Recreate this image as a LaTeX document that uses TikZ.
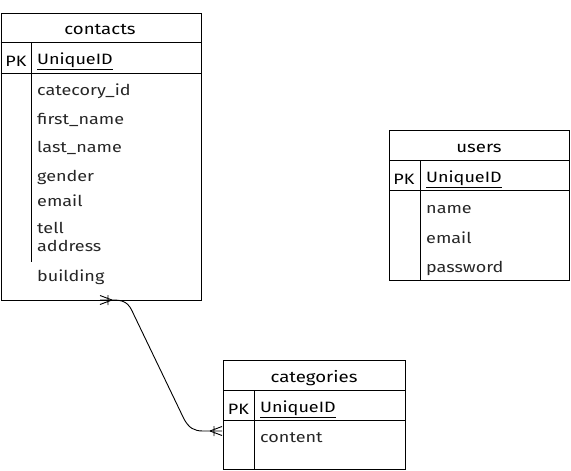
\documentclass[tikz,border=0pt]{standalone}
\usepackage{fontspec}
\setmainfont{Fira Sans}[FakeStretch=1.2]
\begin{document}
\begin{tikzpicture}[x=1pt,y=-1pt,
  tbl/.style={draw=black,line width=1pt,anchor=north west,inner sep=0pt},
  rule/.style={draw=black,line width=0.9pt},
  ttl/.style={font=\fontsize{15.5}{16}\selectfont,inner sep=0pt},
  fld/.style={font=\fontsize{15}{16}\selectfont\color{black!85},anchor=west,inner sep=0pt},
  pk/.style={font=\fontsize{15}{16}\selectfont,inner sep=0pt},
  uid/.style={font=\fontsize{15}{16}\selectfont,anchor=west,inner sep=0pt},
  conn/.style={draw=black,line width=0.9pt}]
\useasboundingbox (0,0) rectangle (571,471);
% contacts
\node[tbl,minimum width=200pt,minimum height=287pt] (contacts) at (0.5,13) {};
\node[ttl] (tc) at (100,30) {contacts};
\draw[rule] (0.5,42) -- (200.5,42);
\draw[rule] (0.5,73) -- (200.5,73);
\draw[rule] (31,42) -- (31,262);
\node[pk] (cpk) at (16,61) {PK};
\node[uid] (cuid) at (37,61) {\underline{UniqueID}};
\node[fld] (c1) at (37,91) {catecory\_id};
\node[fld] (c2) at (37,120) {first\_name};
\node[fld] (c3) at (37,148) {last\_name};
\node[fld] (c4) at (37,177) {gender};
\node[fld] (c5) at (37,201) {email};
\node[fld] (c6) at (37,228) {tell};
\node[fld] (c7) at (37,246) {address};
\node[fld] (c8) at (37,277) {building};
% users
\node[tbl,minimum width=180pt,minimum height=150pt] (users) at (389,130) {};
\node[ttl] (tu) at (479,148) {users};
\draw[rule] (389,160) -- (569,160);
\draw[rule] (389,190) -- (569,190);
\draw[rule] (420,160) -- (420,280);
\node[pk] (upk) at (404,179) {PK};
\node[uid] (uuid) at (426,179) {\underline{UniqueID}};
\node[fld] (u1) at (426,210) {name};
\node[fld] (u2) at (426,238) {email};
\node[fld] (u3) at (426,268) {password};
% categories
\node[tbl,minimum width=182pt,minimum height=109pt] (categories) at (223,360) {};
\node[ttl] (tk) at (314,378) {categories};
\draw[rule] (223,390) -- (405,390);
\draw[rule] (223,420) -- (405,420);
\draw[rule] (254,390) -- (254,469);
\node[pk] (kpk) at (238.5,409) {PK};
\node[uid] (kuid) at (260,409) {\underline{UniqueID}};
\node[fld] (k1) at (260,438) {content};
% connector
\coordinate (ca) at (100,300);
\coordinate (cb) at (222,431);
\draw[conn] (ca) -- (114,300) .. controls (127,300) and (130,306) .. (134,315)
  -- (184,419) .. controls (189,428) and (194,431) .. (203,431) -- (cb);
% crow's feet
\draw[conn] (112,300) -- (100,295.5) (112,300) -- (100,304.5) (108,295) -- (108,305);
\draw[conn] (210,431) -- (222,426.5) (210,431) -- (222,435.5) (214,426) -- (214,436);
\end{tikzpicture}
\end{document}
